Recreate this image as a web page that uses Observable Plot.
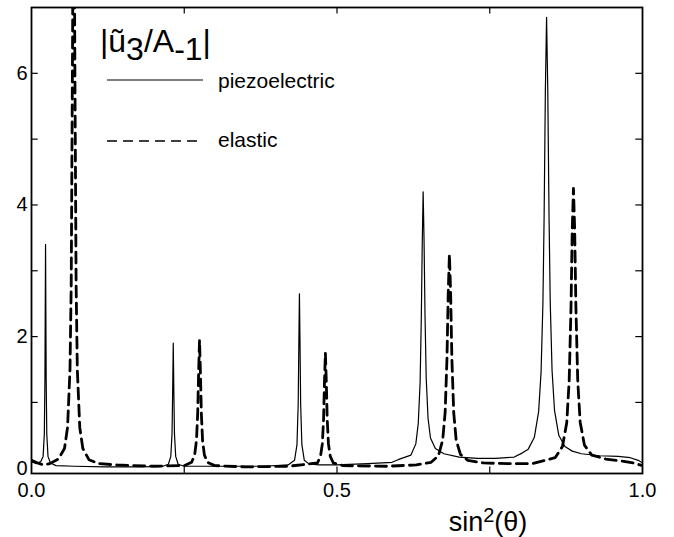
<!DOCTYPE html>
<html><head><meta charset="utf-8">
<script src="https://cdn.jsdelivr.net/npm/d3@7"></script>
<script src="https://cdn.jsdelivr.net/npm/@observablehq/plot@0.6"></script>
<style>body{margin:0;background:#fff}</style>
</head><body><div id="chart"></div>
<script>
// piezoelectric (solid) curve
const piezoX = [0, 0.008, 0.015, 0.019, 0.021, 0.022, 0.023, 0.024, 0.025, 0.027, 0.031, 0.04, 0.07, 0.12, 0.18, 0.215, 0.224, 0.228, 0.230, 0.231, 0.232, 0.233, 0.234, 0.236, 0.240, 0.25, 0.3, 0.38, 0.42, 0.4305, 0.4345, 0.4365, 0.4375, 0.4385, 0.4395, 0.4405, 0.4425, 0.4465, 0.4535, 0.47, 0.5, 0.55, 0.59, 0.60, 0.621, 0.629, 0.633, 0.636, 0.638, 0.6395, 0.641, 0.6425, 0.644, 0.646, 0.649, 0.653, 0.661, 0.675, 0.7, 0.73, 0.76, 0.79, 0.803, 0.813, 0.823, 0.830, 0.834, 0.837, 0.839, 0.841, 0.843, 0.845, 0.847, 0.849, 0.852, 0.856, 0.863, 0.873, 0.885, 0.9, 0.93, 0.96, 0.98, 0.993, 1.0];
const piezoY = [0.1, 0.07, 0.1, 0.18, 0.52, 1.38, 3.4, 1.38, 0.52, 0.18, 0.08, 0.04, 0.03, 0.02, 0.02, 0.03, 0.06, 0.18, 0.52, 1.14, 1.9, 1.14, 0.52, 0.18, 0.06, 0.03, 0.03, 0.03, 0.05, 0.12, 0.36, 0.98, 1.87, 2.65, 1.87, 0.98, 0.36, 0.12, 0.07, 0.05, 0.05, 0.07, 0.09, 0.13, 0.2, 0.37, 0.68, 1.3, 2.29, 3.4, 4.2, 3.45, 2.35, 1.37, 0.76, 0.46, 0.3, 0.22, 0.17, 0.15, 0.15, 0.17, 0.23, 0.29, 0.47, 0.86, 1.46, 2.5, 3.83, 5.72, 6.85, 5.72, 3.85, 2.52, 1.48, 0.88, 0.5, 0.33, 0.26, 0.22, 0.19, 0.18, 0.16, 0.12, 0.08];

// elastic (dashed) curve
const elasticX = [0, 0.01, 0.02, 0.03, 0.044, 0.054, 0.059, 0.063, 0.065, 0.067, 0.069, 0.071, 0.073, 0.075, 0.079, 0.084, 0.094, 0.11, 0.14, 0.2, 0.25, 0.262, 0.267, 0.270, 0.272, 0.2735, 0.275, 0.2765, 0.278, 0.280, 0.283, 0.288, 0.3, 0.35, 0.42, 0.468, 0.473, 0.476, 0.478, 0.4795, 0.481, 0.4825, 0.484, 0.486, 0.489, 0.494, 0.51, 0.58, 0.63, 0.654, 0.666, 0.673, 0.677, 0.680, 0.682, 0.684, 0.686, 0.688, 0.691, 0.695, 0.702, 0.714, 0.74, 0.78, 0.82, 0.857, 0.869, 0.876, 0.880, 0.883, 0.885, 0.887, 0.889, 0.891, 0.894, 0.898, 0.905, 0.917, 0.94, 0.965, 0.985, 1.0];
const elasticY = [0.12, 0.08, 0.05, 0.07, 0.14, 0.3, 0.62, 1.5, 2.8, 6.1, 10.0, 6.1, 2.8, 1.5, 0.62, 0.3, 0.13, 0.07, 0.05, 0.03, 0.04, 0.09, 0.2, 0.42, 0.83, 1.45, 1.95, 1.45, 0.83, 0.42, 0.2, 0.09, 0.04, 0.02, 0.03, 0.08, 0.18, 0.37, 0.74, 1.31, 1.75, 1.31, 0.74, 0.37, 0.18, 0.08, 0.04, 0.03, 0.05, 0.09, 0.19, 0.43, 0.85, 1.67, 2.65, 3.25, 2.65, 1.67, 0.85, 0.43, 0.21, 0.12, 0.08, 0.07, 0.07, 0.16, 0.33, 0.69, 1.33, 2.45, 3.62, 4.25, 3.62, 2.45, 1.33, 0.7, 0.35, 0.2, 0.14, 0.11, 0.08, 0.04];

const xTickValues = [0, 0.5, 1];
const xMinorTicks = [0.25, 0.5, 0.75];
const yTickValues = [0, 2, 4, 6];
const yMinorTicks = [1, 2, 3, 4, 5, 6];
const seriesNames = ["piezoelectric", "elastic"];

const piezo = piezoX.map((x, i) => ({x, y: piezoY[i]}));
const elastic = elasticX.map((x, i) => ({x, y: elasticY[i]}));

const yMin = -0.08, yMax = 7;
const font = "'Liberation Sans', Arial, Helvetica, sans-serif";

const chart = Plot.plot({
  width: 674,
  height: 537,
  marginLeft: 31,
  marginRight: 32,
  marginTop: 7,
  marginBottom: 64,
  style: {fontFamily: font, fontSize: "20px", color: "#000", background: "#fff"},
  x: {domain: [0, 1]},
  y: {domain: [yMin, yMax]},
  marks: [
    Plot.line(elastic, {x: "x", y: "y", stroke: "#000", strokeWidth: 2.8, strokeDasharray: "11,6", clip: true}),
    Plot.line(piezo, {x: "x", y: "y", stroke: "#000", strokeWidth: 1.2, clip: true}),
    Plot.ruleY(yMinorTicks, {x1: 0, x2: 0.011, stroke: "#000", strokeWidth: 1.2}),
    Plot.ruleY(yMinorTicks, {x1: 0.989, x2: 1, stroke: "#000", strokeWidth: 1.2}),
    Plot.ruleX(xMinorTicks, {y1: yMin, y2: yMin + 0.1, stroke: "#000", strokeWidth: 1.2}),
    Plot.ruleX(xMinorTicks, {y1: yMax - 0.1, y2: yMax, stroke: "#000", strokeWidth: 1.2}),
    Plot.frame({stroke: "#000", strokeWidth: 1.8}),
    Plot.axisY({ticks: yTickValues, tickSize: 0, tickPadding: 4, label: null, fontSize: 20}),
    Plot.axisX({ticks: xTickValues, tickSize: 0, tickPadding: 9, label: null, tickFormat: d3.format(".1f"), fontSize: 20})
  ]
});

const svg = d3.select(chart);
// title |ũ3/A-1|
const t = svg.append("text").attr("x", 100).attr("y", 52).attr("text-anchor", "start")
  .attr("font-family", font).attr("font-size", 32).attr("fill", "#000");
t.append("tspan").text("|ũ");
t.append("tspan").attr("dy", 8).text("3");
t.append("tspan").attr("dy", -8).text("/A");
t.append("tspan").attr("dy", 8).text("-1");
t.append("tspan").attr("dy", -8).text("|");

// legend
svg.append("line").attr("x1", 107).attr("x2", 203).attr("y1", 80).attr("y2", 80)
  .attr("stroke", "#000").attr("stroke-width", 1.2);
svg.append("line").attr("x1", 107).attr("x2", 203).attr("y1", 141).attr("y2", 141)
  .attr("stroke", "#000").attr("stroke-width", 1.6).attr("stroke-dasharray", "10,6");
svg.append("text").attr("x", 218).attr("y", 88).attr("text-anchor", "start")
  .attr("font-family", font).attr("font-size", 21).text(seriesNames[0]);
svg.append("text").attr("x", 218).attr("y", 147).attr("text-anchor", "start")
  .attr("font-family", font).attr("font-size", 21).text(seriesNames[1]);

// x label sin²(θ)
const xl = svg.append("text").attr("x", 488).attr("y", 531).attr("text-anchor", "middle")
  .attr("font-family", font).attr("font-size", 27);
xl.append("tspan").text("sin");
xl.append("tspan").attr("dy", -9).attr("font-size", 20).text("2");
xl.append("tspan").attr("dy", 9).text("(θ)");

document.getElementById("chart").append(chart);
</script>
</body></html>
